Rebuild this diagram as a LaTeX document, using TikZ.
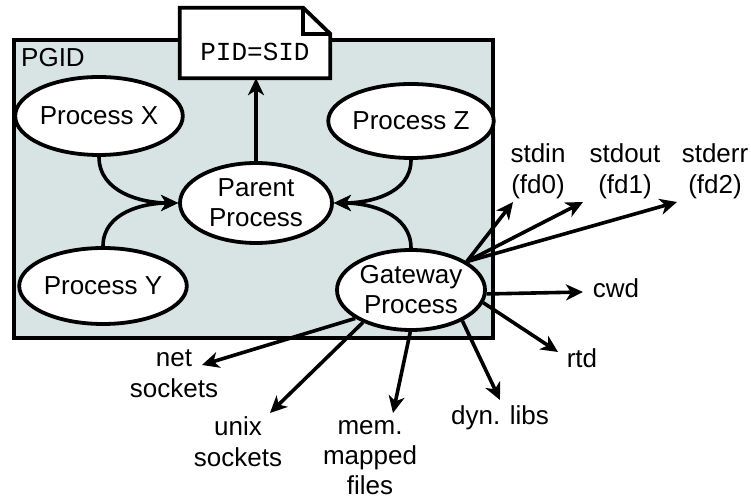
\documentclass[tikz,border=0pt]{standalone}
\usepackage{fontspec}
\setmainfont{Liberation Sans}
\newfontfamily\codefont{Liberation Mono}
\usetikzlibrary{arrows.meta,shapes.geometric,calc}
\definecolor{pgidfill}{HTML}{D7E4E3}

\begin{document}
\begin{tikzpicture}[x=1pt,y=1pt,
  proc/.style={ellipse, draw, line width=3.8pt, fill=white, inner sep=0pt,
    align=center, font=\fontsize{26}{30}\selectfont},
  lbl/.style={align=center, inner sep=0pt, font=\fontsize{26}{31}\selectfont},
  conn/.style={line width=3.6pt, -{Stealth[length=17pt,width=16pt,inset=5pt]}},
]
\useasboundingbox (0,0) rectangle (751,500);

% process group frame
\draw[line width=4pt, fill=pgidfill] (14,162) rectangle (493,460);
\node[lbl, anchor=north west] (pgid) at (21,452) {PGID};

% session id note with folded corner
\node[minimum width=150pt, minimum height=70pt, inner sep=0pt] (doc) at (255,457) {};
\draw[line width=3.8pt, fill=white, line join=miter]
  (doc.south west) -- (doc.north west) -- ($(doc.north east)+(-27,0)$)
  -- ($(doc.north east)+(0,-26)$) -- (doc.south east) -- cycle;
\draw[line width=3.8pt, line join=miter]
  ($(doc.north east)+(-27,0)$) |- ($(doc.north east)+(0,-26)$);
\node[inner sep=0pt, font=\codefont\fontsize{26}{30}\selectfont] (sid) at (255,448) {PID=SID};

% processes
\node[proc, minimum width=146pt, minimum height=78pt] (px) at (99,384) {Process X};
\node[proc, minimum width=150pt, minimum height=76pt] (py) at (103,214) {Process Y};
\node[proc, minimum width=152pt, minimum height=80pt] (parent) at (256,297) {Parent\\Process};
\node[proc, minimum width=148pt, minimum height=74pt] (pz) at (411,379) {Process Z};
\node[proc, minimum width=148pt, minimum height=80pt] (gw) at (411,210) {Gateway\\Process};

% group links
\draw[conn] (parent.north) -- (doc.south -| parent.north);
\draw[conn] (px.south) to[out=-90, in=180] (parent.west);
\draw[conn] (py.north) to[out=90, in=180] (parent.west);
\draw[conn] (pz.south) to[out=-90, in=0] (parent.east);
\draw[conn] (gw.north) to[out=90, in=0] (parent.east);

% resources of the gateway
\node[lbl] (stdin)  at (538,329) {stdin\\(fd0)};
\node[lbl] (stdout) at (625,329) {stdout\\(fd1)};
\node[lbl] (stderr) at (715,329) {stderr\\(fd2)};
\node[lbl] (cwd)    at (616,212) {cwd};
\node[lbl] (rtd)    at (582,142) {rtd};
\node[lbl] (net)    at (174,126) {net\\sockets};
\node[lbl] (unix)   at (238,58)  {unix\\sockets};
\node[lbl, font=\fontsize{26}{30}\selectfont] (mem) at (370,42) {mem.\\mapped\\files};
\node[lbl] (dyn)    at (500,82)  {dyn. libs};

\coordinate (tin)   at (513,298);
\coordinate (tout)  at (583,298);
\coordinate (terr)  at (677,298);
\coordinate (tcwd)  at (583,208);
\coordinate (trtd)  at (558,148);
\coordinate (tnet)  at (202,135);
\coordinate (tunix) at (270,87);
\coordinate (tmem)  at (393,87);
\coordinate (tdyn)  at (500,100);

\draw[conn] (gw.27) -- (tin);
\draw[conn] (gw.27) -- (tout);
\draw[conn] (gw.27) -- (terr);
\draw[conn] (gw.-3) -- (tcwd);
\draw[conn] (gw.-10) -- (trtd);
\draw[conn] (gw.207) -- (tnet);
\draw[conn] (gw.214) -- (tunix);
\draw[conn] (gw.-91) -- (tmem);
\draw[conn] (gw.-31) -- (tdyn);
\end{tikzpicture}
\end{document}
